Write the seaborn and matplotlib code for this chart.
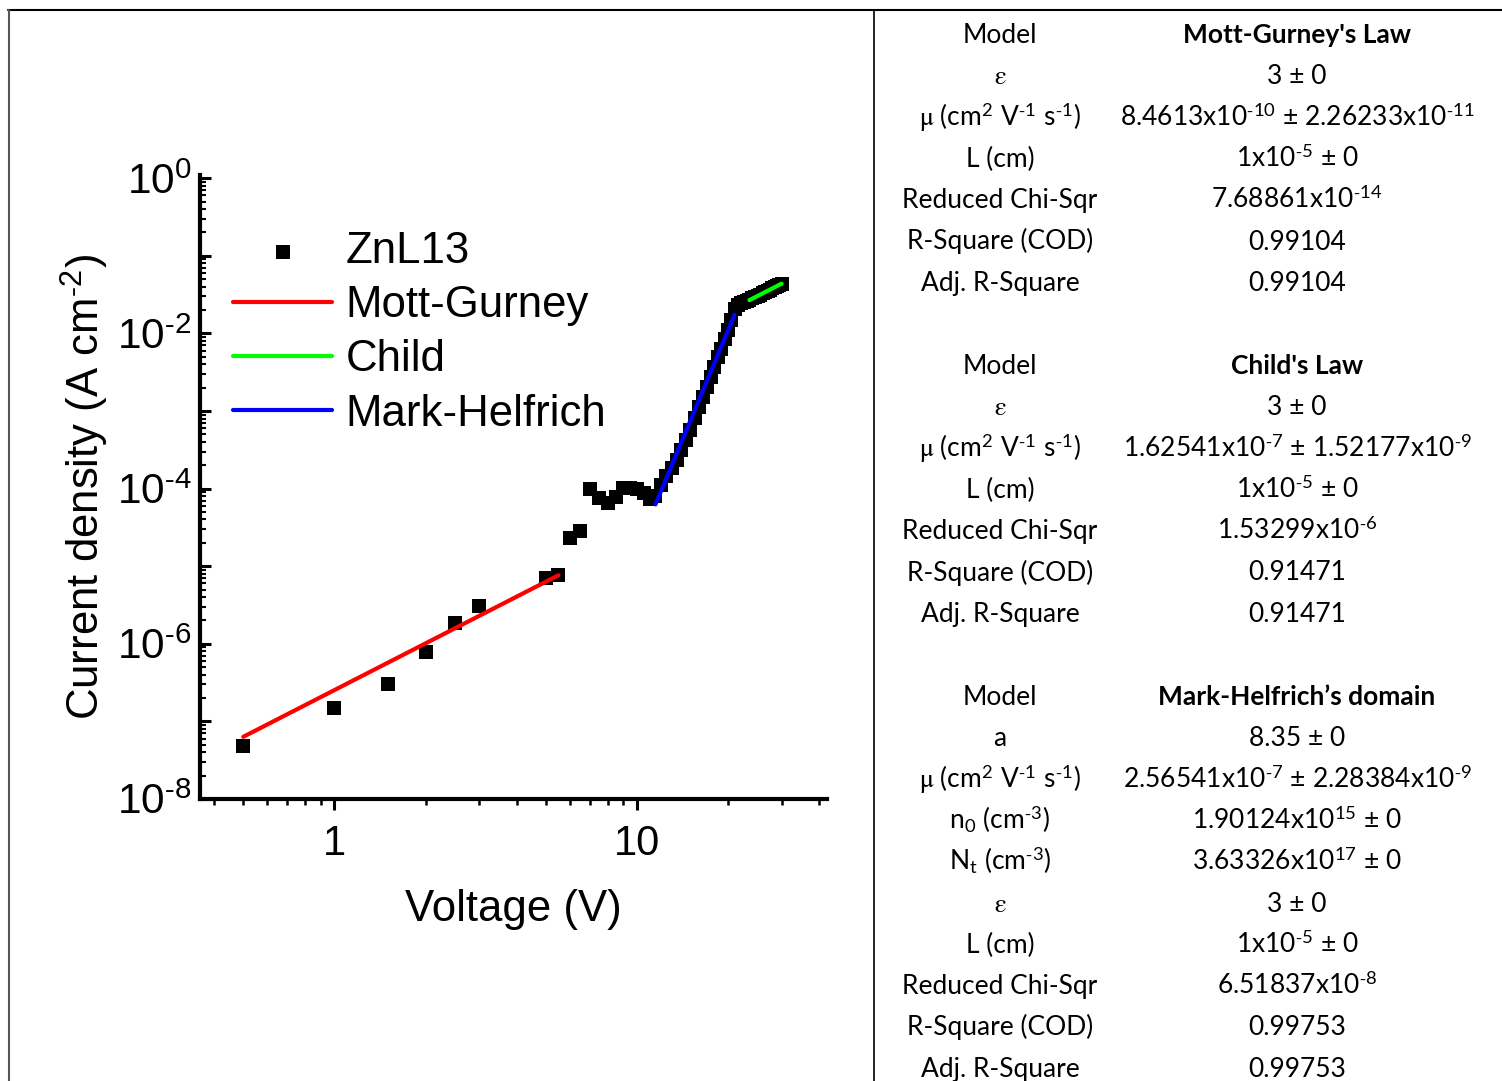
import numpy as np
import pandas as pd
import matplotlib
matplotlib.use("Agg")
import matplotlib.pyplot as plt
import seaborn as sns
from matplotlib.lines import Line2D
from matplotlib.ticker import LogLocator, FixedLocator, FuncFormatter, NullFormatter

# ---------------------------------------------------------------------------
# Measured J-V data, sample ZnL13
# ---------------------------------------------------------------------------
voltage = [0.5, 1.0, 1.5, 2.0, 2.5, 3.0,
           5.0, 5.5, 6.0, 6.5, 7.0, 7.5, 8.0, 8.5, 9.0, 9.5, 10.0, 10.5, 11.0,
           11.5, 12.0, 12.5, 13.0, 13.5, 14.0, 14.5, 15.0, 15.5, 16.0, 16.5,
           17.0, 17.5, 18.0, 18.5, 19.0, 19.5, 20.0, 20.5, 21.0, 21.5, 22.0,
           22.5, 23.0, 23.5, 24.0, 24.5, 25.0, 25.5, 26.0, 26.5, 27.0, 27.5,
           28.0, 28.5, 29.0, 29.5, 30.0]
current_density = [4.81e-8, 1.48e-7, 3.01e-7, 7.78e-7, 1.84e-6, 3.03e-6,
                   6.95e-6, 7.60e-6, 2.34e-5, 2.88e-5, 1.00e-4, 7.66e-5, 6.61e-5,
                   7.89e-5, 1.02e-4, 1.02e-4, 1.00e-4, 8.71e-5, 7.24e-5,
                   8.13e-5, 1.12e-4, 1.45e-4, 1.82e-4, 2.34e-4, 3.16e-4, 4.27e-4,
                   5.75e-4, 8.13e-4, 1.12e-3, 1.51e-3, 2.04e-3, 2.75e-3, 3.72e-3,
                   4.90e-3, 6.31e-3, 8.51e-3, 1.12e-2, 1.51e-2, 2.04e-2, 2.29e-2,
                   2.45e-2, 2.57e-2, 2.63e-2, 2.72e-2, 2.82e-2, 2.92e-2, 3.05e-2,
                   3.16e-2, 3.27e-2, 3.43e-2, 3.55e-2, 3.67e-2, 3.80e-2, 3.94e-2,
                   4.07e-2, 4.22e-2, 4.37e-2]

# Fit parameters (from the fit report)
eps_r = 3.0
thickness_cm = 1e-5
mu_mott_gurney = 8.4613e-10
mu_child = 1.62541e-7
mh_l = 8.35
mu_mark_helfrich = 2.56541e-7
mh_n0 = 1.90124e15
mh_nt = 3.63326e17

# Voltage windows used for each fit
mott_gurney_range = [0.5, 5.5]
child_range = [23.5, 30.0]
mark_helfrich_range = [11.5, 21.0]


def sup(s):
    """Superscript in the surrounding font, with a plain hyphen as minus."""
    s = s.replace("-", r"\text{-}")
    return r"$^{\mathdefault{" + s + "}}$"


def sub(s):
    return r"$_{\mathdefault{" + s + "}}$"


MU = r"$\mathrm{\mu}$"
EPS = r"$\mathrm{\varepsilon}$"
MOBILITY = f"{MU} (cm{sup('2')} V{sup('-1')} s{sup('-1')})"

# Fit report table
table_left = [
    ["Model", EPS, MOBILITY, "L (cm)", "Reduced Chi-Sqr", "R-Square (COD)",
     "Adj. R-Square"],
    ["Model", EPS, MOBILITY, "L (cm)", "Reduced Chi-Sqr", "R-Square (COD)",
     "Adj. R-Square"],
    ["Model", "a", MOBILITY, f"n{sub('0')} (cm{sup('-3')})",
     f"N{sub('t')} (cm{sup('-3')})", EPS, "L (cm)", "Reduced Chi-Sqr",
     "R-Square (COD)", "Adj. R-Square"],
]
table_right = [
    ["Mott-Gurney's Law", "3 ± 0",
     f"8.4613x10{sup('-10')} ± 2.26233x10{sup('-11')}",
     f"1x10{sup('-5')} ± 0", f"7.68861x10{sup('-14')}", "0.99104", "0.99104"],
    ["Child's Law", "3 ± 0",
     f"1.62541x10{sup('-7')} ± 1.52177x10{sup('-9')}",
     f"1x10{sup('-5')} ± 0", f"1.53299x10{sup('-6')}", "0.91471", "0.91471"],
    ["Mark-Helfrich’s domain", "8.35 ± 0",
     f"2.56541x10{sup('-7')} ± 2.28384x10{sup('-9')}",
     f"1.90124x10{sup('15')} ± 0", f"3.63326x10{sup('17')} ± 0", "3 ± 0",
     f"1x10{sup('-5')} ± 0", f"6.51837x10{sup('-8')}", "0.99753", "0.99753"],
]

# ---------------------------------------------------------------------------
# Model curves
# ---------------------------------------------------------------------------
EPS0 = 8.854e-14   # F/cm
Q = 1.602e-19      # C


def sclc_law(v, mu):
    return 9.0 / 8.0 * eps_r * EPS0 * mu * v ** 2 / thickness_cm ** 3


def mark_helfrich(v):
    l = mh_l
    return (Q * mu_mark_helfrich * mh_n0
            * (eps_r * EPS0 * l / (Q * mh_nt * (l + 1))) ** l
            * ((2 * l + 1) / (l + 1)) ** (l + 1)
            * v ** (l + 1) / thickness_cm ** (2 * l + 1))


v_mg = np.geomspace(*mott_gurney_range, 60)
v_ch = np.geomspace(*child_range, 30)
v_mh = np.geomspace(*mark_helfrich_range, 60)
fit_mg = pd.DataFrame({"V": v_mg, "J": sclc_law(v_mg, mu_mott_gurney)})
fit_ch = pd.DataFrame({"V": v_ch, "J": sclc_law(v_ch, mu_child)})
fit_mh = pd.DataFrame({"V": v_mh, "J": mark_helfrich(v_mh)})
data = pd.DataFrame({"V": voltage, "J": current_density})

# ---------------------------------------------------------------------------
# Figure
# ---------------------------------------------------------------------------
sns.set_style("ticks")
plt.rcParams["font.family"] = ["Liberation Sans", "DejaVu Sans"]
plt.rcParams["mathtext.fontset"] = "stix"
for key in ("text.color", "axes.labelcolor", "xtick.color", "ytick.color",
            "axes.edgecolor"):
    plt.rcParams[key] = "black"

W, H = 1502, 1081
fig = plt.figure(figsize=(W / 100, H / 100), dpi=100)
fig.patch.set_facecolor("white")
ax = fig.add_axes([0.1332, 0.2609, 0.4174, 0.5772])

sns.scatterplot(data=data, x="V", y="J", marker="s", s=92, color="black",
                linewidth=0, label="ZnL13", ax=ax, zorder=2)
line_kw = dict(lw=3, solid_capstyle="round", ax=ax, zorder=3)
sns.lineplot(data=fit_mg, x="V", y="J", color="#ff0000", label="Mott-Gurney", **line_kw)
sns.lineplot(data=fit_ch, x="V", y="J", color="#00ff00", label="Child", **line_kw)
sns.lineplot(data=fit_mh, x="V", y="J", color="#0000ff", label="Mark-Helfrich", **line_kw)

ax.set_xscale("log")
ax.set_yscale("log")
ax.set_xlim(0.36, 42.4)
ax.set_ylim(1e-8, 1.1)

# axis styling
for side in ("top", "right"):
    ax.spines[side].set_visible(False)
for side in ("left", "bottom"):
    ax.spines[side].set_linewidth(3)
    ax.spines[side].set_color("black")

ax.xaxis.set_major_locator(FixedLocator([1, 10]))
ax.xaxis.set_major_formatter(FuncFormatter(lambda v, p: f"{v:g}"))
ax.xaxis.set_minor_locator(LogLocator(base=10, subs=np.arange(2, 10), numticks=20))
ax.xaxis.set_minor_formatter(NullFormatter())


def decade_label(v, pos):
    e = int(round(np.log10(v)))
    if e % 2:
        return ""
    return r"$\mathdefault{10}$" + sup(str(e))


ax.yaxis.set_major_locator(LogLocator(base=10, subs=(1.0,), numticks=20))
ax.yaxis.set_major_formatter(FuncFormatter(decade_label))
ax.yaxis.set_minor_locator(LogLocator(base=10, subs=np.arange(2, 10), numticks=20))
ax.yaxis.set_minor_formatter(NullFormatter())

ax.tick_params(axis="x", which="major", direction="out", length=8, width=2.2,
               labelsize=30, pad=10, color="black")
ax.tick_params(axis="x", which="minor", direction="out", length=4.5, width=1.8,
               color="black")
ax.tick_params(axis="y", which="major", direction="in", length=8, width=2.2,
               labelsize=30.5, pad=6, color="black")
ax.tick_params(axis="y", which="minor", direction="in", length=4.5, width=1.5,
               color="black")

ax.set_xlabel("Voltage (V)", fontsize=31.5, labelpad=18)
ax.set_ylabel(f"Current density (A cm{sup('-2')})", fontsize=31.5, labelpad=5)

ax.legend(loc="upper left", bbox_to_anchor=(0.0526, 0.91), frameon=False,
          fontsize=31.5, handlelength=2.27, handletextpad=0.3, labelspacing=0.30,
          borderpad=0, borderaxespad=0)

# ---------------------------------------------------------------------------
# Fit report table
# ---------------------------------------------------------------------------
table_font = ["Lato", "DejaVu Sans"]
col_left, col_right = 1000, 1297
block_start = [43, 374, 705]
row_pitch = 41.3
for b, (left_rows, right_rows) in enumerate(zip(table_left, table_right)):
    for i, (lt, rt) in enumerate(zip(left_rows, right_rows)):
        y = 1 - (block_start[b] + i * row_pitch) / H
        fig.text(col_left / W, y, lt, ha="center", va="baseline", fontsize=19,
                 family=table_font)
        fig.text(col_right / W, y, rt, ha="center", va="baseline", fontsize=19,
                 family=table_font, fontweight="bold" if i == 0 else "normal")

# frame lines around the panel
top_y = 1 - 10 / H
fig.add_artist(Line2D([8 / W, 1], [top_y, top_y], transform=fig.transFigure,
                      color="black", lw=1.5))
fig.add_artist(Line2D([9 / W, 9 / W], [0, top_y], transform=fig.transFigure,
                      color="#555555", lw=1.5))
fig.add_artist(Line2D([874 / W, 874 / W], [0, top_y], transform=fig.transFigure,
                      color="black", lw=1.2))

fig.savefig("out.png", dpi=100)
